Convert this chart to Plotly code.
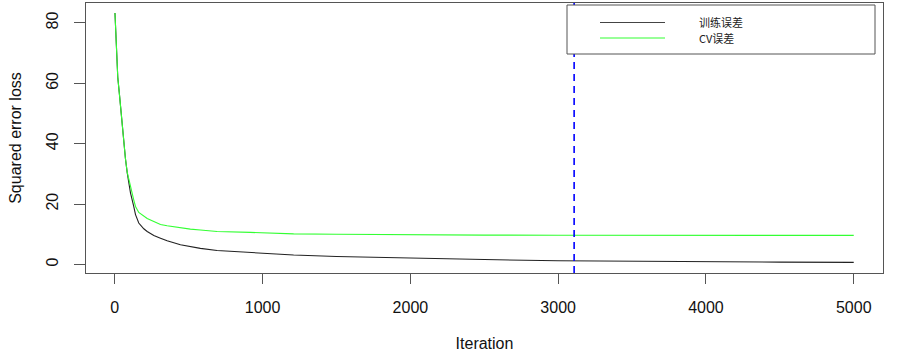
import plotly.graph_objects as go

# ---- data ----
iterations = [1, 10, 20, 30, 39, 50, 62, 72, 84, 95, 106, 128, 140, 162, 196, 219,
              264, 309, 354, 444, 511, 579, 692, 917, 1007, 1120, 1210, 1500, 2000,
              2500, 3000, 3500, 4000, 4500, 5000]
train_err = [83.3, 70.0, 62.0, 57.0, 52.0, 45.0, 39.0, 35.0, 30.3, 27.0, 23.7, 19.2,
             16.5, 13.7, 11.8, 10.9, 9.6, 8.7, 7.8, 6.5, 5.9, 5.3, 4.6, 4.0, 3.7,
             3.4, 3.1, 2.6, 2.0, 1.6, 1.2, 1.0, 0.85, 0.75, 0.66]
cv_err = [83.3, 70.0, 62.0, 57.0, 52.0, 45.0, 39.0, 35.0, 30.5, 27.8, 25.9, 21.4,
          19.2, 17.2, 15.9, 15.2, 14.2, 13.2, 12.8, 12.1, 11.7, 11.4, 10.9, 10.6,
          10.4, 10.3, 10.1, 10.0, 9.8, 9.7, 9.65, 9.6, 9.6, 9.6, 9.6]
best_iter = 3108
series_names = ["训练误差", "CV误差"]
x_ticks = [0, 1000, 2000, 3000, 4000, 5000]
y_ticks = [0, 20, 40, 60, 80]

FONT = "Liberation Sans, Arial, sans-serif"
CJK = "Noto Sans CJK SC, sans-serif"

fig = go.Figure()
fig.add_trace(go.Scatter(x=iterations, y=train_err, mode="lines",
                         line=dict(color="#222222", width=1.1), name=series_names[0],
                         showlegend=False))
fig.add_trace(go.Scatter(x=iterations, y=cv_err, mode="lines",
                         line=dict(color="#33ff33", width=1.1), name=series_names[1],
                         showlegend=False))

# best-iteration marker
fig.add_shape(type="line", xref="x", yref="paper", x0=best_iter, x1=best_iter,
              y0=0, y1=1, line=dict(color="#0000ff", width=1.6, dash="7px,5px"))

# hand-drawn legend box (R style)
L, R, T, B = 86, 883, 3, 273
def px(xp):
    return (xp - L) / (R - L)
def py(yp):
    return (B - yp) / (B - T)

fig.add_shape(type="rect", xref="paper", yref="paper",
              x0=px(567), x1=px(875), y0=py(54), y1=py(5),
              line=dict(color="#555555", width=1), fillcolor="white")
legend_colors = ["#444444", "#33ff33"]
legend_y = [22.5, 38]
for name, col, yy in zip(series_names, legend_colors, legend_y):
    fig.add_shape(type="line", xref="paper", yref="paper",
                  x0=px(600), x1=px(665), y0=py(yy), y1=py(yy),
                  line=dict(color=col, width=1.1))
    fig.add_annotation(xref="paper", yref="paper", x=px(697), y=py(yy),
                       text=name, showarrow=False, xanchor="left", yanchor="middle",
                       font=dict(family=CJK, size=11, color="#222222"))

fig.update_layout(
    width=903, height=352,
    margin=dict(l=L, r=903 - R, t=T, b=352 - B, autoexpand=False),
    paper_bgcolor="white", plot_bgcolor="white",
    font=dict(family=FONT, size=16, color="#111111"),
    showlegend=False,
)
fig.update_xaxes(range=[-195, 5198], tickvals=x_ticks, ticktext=[str(v) for v in x_ticks],
                 showgrid=False, zeroline=False, showline=True, mirror=True,
                 linecolor="#555555", linewidth=1, ticks="outside", ticklen=10,
                 tickcolor="#555555", tickfont=dict(size=16), automargin=False,
                 ticklabelstandoff=10,
                 title=dict(text="Iteration", font=dict(size=16), standoff=27))
fig.update_yaxes(range=[-2.85, 86.6], tickvals=y_ticks, ticktext=[str(v) for v in y_ticks],
                 showgrid=False, zeroline=False, showline=True, mirror=True,
                 linecolor="#555555", linewidth=1, ticks="outside", ticklen=11,
                 tickcolor="#555555", tickangle=-90, tickfont=dict(size=16),
                 automargin=False, ticklabelstandoff=10,
                 title=dict(text="Squared error loss", font=dict(size=16), standoff=17))

fig.write_html("out.html", config={"displayModeBar": False},
               post_script="document.body.style.margin='0px';")
